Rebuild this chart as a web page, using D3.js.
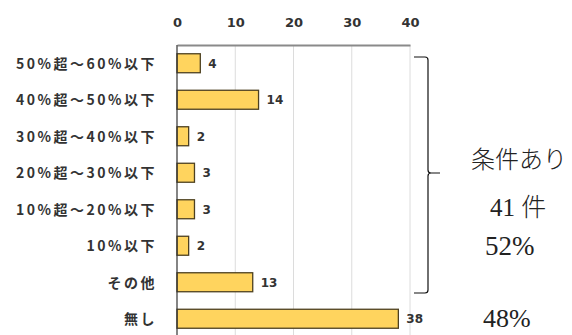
<!DOCTYPE html>
<html>
<head>
<meta charset="utf-8">
<script src="https://cdn.jsdelivr.net/npm/d3@7"></script>
<style>
  body { margin: 0; background: #fff; }
  svg { display: block; }
</style>
</head>
<body>
<div id="chart"></div>
<script>
const categories = ["50%超～60%以下", "40%超～50%以下", "30%超～40%以下", "20%超～30%以下",
                    "10%超～20%以下", "10%以下", "その他", "無し"];
const counts = [4, 14, 2, 3, 3, 2, 13, 38];
const ticks = [0, 10, 20, 30, 40];
const braceLines = ["条件あり", "41 件", "52%"];
const restLabel = "48%";

const width = 572, height = 335;

const svg = d3.select("#chart").append("svg")
    .attr("width", width)
    .attr("height", height);

const x = d3.scaleLinear().domain([0, 40]).range([177, 410]);
const y = d3.scaleBand().domain(categories).range([45, 337]).paddingInner(0.48).paddingOuter(0.24);

// grid
svg.append("g")
    .selectAll("line")
    .data(ticks.slice(1))
    .enter().append("line")
        .attr("x1", d => x(d)).attr("x2", d => x(d))
        .attr("y1", 45).attr("y2", height)
        .attr("stroke", "#dcdcdc")
        .attr("stroke-width", 1);

// top axis
const xAxis = svg.append("g")
    .attr("transform", "translate(0,45)")
    .call(d3.axisTop(x).tickValues(ticks).tickSize(0).tickPadding(18));
xAxis.select(".domain").attr("stroke", "#8a8a8a").attr("stroke-width", 2);
xAxis.selectAll("text")
    .attr("font-family", "'DejaVu Sans', sans-serif")
    .attr("font-weight", "bold")
    .attr("font-size", 13)
    .attr("fill", "#333");

// bars
svg.append("g")
    .selectAll("rect")
    .data(counts)
    .enter().append("rect")
        .attr("x", x(0))
        .attr("y", (d, i) => y(categories[i]))
        .attr("width", d => x(d) - x(0))
        .attr("height", y.bandwidth())
        .attr("fill", "#ffd45e")
        .attr("stroke", "#4d4020")
        .attr("stroke-width", 1.3);

// left axis line
svg.append("line")
    .attr("x1", x(0)).attr("x2", x(0))
    .attr("y1", 45).attr("y2", height)
    .attr("stroke", "#333").attr("stroke-width", 1.2);

// category labels
svg.append("g")
    .selectAll("text")
    .data(categories)
    .enter().append("text")
        .attr("x", 157)
        .attr("y", d => y(d) + y.bandwidth() / 2)
        .attr("dy", "0.38em")
        .attr("text-anchor", "end")
        .attr("font-family", "'Noto Sans CJK JP', sans-serif")
        .attr("font-weight", "bold")
        .attr("font-size", 14)
        .attr("letter-spacing", 2.5)
        .attr("fill", "#333")
        .text(d => d);

// value labels
svg.append("g")
    .selectAll("text")
    .data(counts)
    .enter().append("text")
        .attr("x", d => x(d) + 8)
        .attr("y", (d, i) => y(categories[i]) + y.bandwidth() / 2)
        .attr("dy", "0.36em")
        .attr("font-family", "'DejaVu Sans', sans-serif")
        .attr("font-weight", "bold")
        .attr("font-size", 12)
        .attr("fill", "#333")
        .text(d => d);

// brace
const bTop = 57, bBot = 293, bx = 428, bMid = 173;
svg.append("path")
    .attr("d", `M414,${bTop} L${bx - 3},${bTop} Q${bx},${bTop} ${bx},${bTop + 3} L${bx},${bMid - 3} Q${bx},${bMid} ${bx + 3},${bMid} L440,${bMid}
                M${bx + 3},${bMid} Q${bx},${bMid} ${bx},${bMid + 3} L${bx},${bBot - 3} Q${bx},${bBot} ${bx - 3},${bBot} L414,${bBot}`)
    .attr("fill", "none")
    .attr("stroke", "#111")
    .attr("stroke-width", 1.2);

const serifFont = "'Liberation Serif', 'Noto Sans CJK JP', serif";
svg.append("text").attr("x", 471).attr("y", 168)
    .attr("font-family", serifFont).attr("font-weight", 300)
    .attr("font-size", 24).attr("fill", "#222").text(braceLines[0]);
svg.append("text").attr("x", 490).attr("y", 216)
    .attr("font-family", serifFont).attr("font-weight", 300)
    .attr("font-size", 25).attr("fill", "#222").text(braceLines[1]);
svg.append("text").attr("x", 485).attr("y", 255)
    .attr("font-family", serifFont)
    .attr("font-size", 27).attr("fill", "#222").text(braceLines[2]);
svg.append("text").attr("x", 483).attr("y", 327)
    .attr("font-family", serifFont)
    .attr("font-size", 26).attr("fill", "#222").text(restLabel);
</script>
</body>
</html>
